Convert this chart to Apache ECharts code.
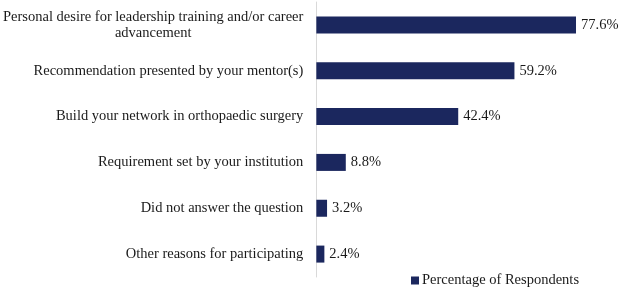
<!DOCTYPE html>
<html><head><meta charset="utf-8">
<script src="https://cdn.jsdelivr.net/npm/echarts@6/dist/echarts.min.js"></script>
<style>html,body{margin:0;padding:0;background:#fff}#c{width:620px;height:289px}</style>
</head><body><div id="c"></div>
<script>
const categories = [
  "Personal desire for leadership training and/or career\nadvancement",
  "Recommendation presented by your mentor(s)",
  "Build your network in orthopaedic surgery",
  "Requirement set by your institution",
  "Did not answer the question",
  "Other reasons for participating"
];
const values = [77.6, 59.2, 42.4, 8.8, 3.2, 2.4];
const seriesName = "Percentage of Respondents";

const font = "'Liberation Serif','Times New Roman',serif";
const txt = '#1a1a1a';
const chart = echarts.init(document.getElementById('c'), null, {renderer: 'canvas'});
chart.setOption({
  animation: false,
  textStyle: {fontFamily: font},
  legend: {
    data: [seriesName], left: 406, top: 268, icon: 'rect', itemWidth: 8, itemHeight: 8, itemGap: 5,
    textStyle: {fontFamily: font, fontSize: 14.5, color: txt, padding: [0,0,0,-2]}
  },
  grid: {left: 316, top: 2, width: 301.5, height: 275, containLabel: false},
  xAxis: {type: 'value', min: 0, max: 90, show: false, splitLine: {show: false}},
  yAxis: {
    type: 'category', inverse: true, data: categories,
    axisLine: {show: true, lineStyle: {color: '#d9d9d9', width: 1}},
    axisTick: {show: false},
    axisLabel: {
      margin: 13, fontFamily: font, fontSize: 14.5, color: txt, lineHeight: 16,
      formatter: function (v) {
        const parts = v.split('\n');
        if (parts.length === 1) return v;
        return '{a|' + parts[0] + '}\n{b|' + parts[1] + '}';
      },
      rich: {
        a: {fontFamily: font, fontSize: 14.5, color: txt, lineHeight: 16, align: 'right'},
        b: {fontFamily: font, fontSize: 14.5, color: txt, lineHeight: 16, align: 'center'}
      }
    }
  },
  series: [{
    name: seriesName, type: 'bar', data: values, barWidth: 17,
    itemStyle: {color: '#1b275e'},
    label: {
      show: true, position: 'right', distance: 5, fontFamily: font, fontSize: 14.5, color: txt,
      formatter: p => p.value.toFixed(1) + '%'
    }
  }]
});
</script></body></html>
